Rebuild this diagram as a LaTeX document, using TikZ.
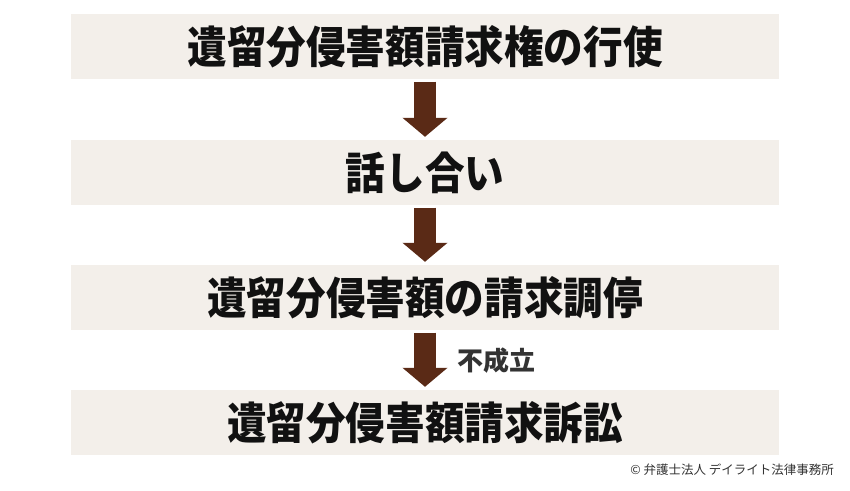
\documentclass[tikz,border=0pt]{standalone}
\usepackage{fontspec}
\setmainfont{Noto Sans CJK JP}
\newfontfamily\jptitle{Noto Sans CJK JP}[FakeStretch=0.9]
\newfontfamily\jpsmall{Noto Sans CJK JP}
\usetikzlibrary{arrows.meta}
\definecolor{boxbg}{HTML}{F3EFEA}
\definecolor{arrowbrown}{HTML}{5A2A16}
\definecolor{labelgray}{HTML}{333333}
\definecolor{txtblack}{HTML}{111111}
\tikzset{
  stepbox/.style={fill=boxbg, draw=none, minimum width=708pt, minimum height=65pt,
    inner sep=0pt, text=txtblack, font=\jptitle\bfseries\fontsize{44}{44}\selectfont},
  flowarrow/.style={draw=arrowbrown, line width=22pt,
    -{Triangle[width=44pt,length=19pt]}, shorten <=2.5pt, shorten >=3pt},
  steplabel/.style={text=labelgray, inner sep=0pt, anchor=west,
    font=\jpsmall\bfseries\fontsize{26}{26}\selectfont},
  credit/.style={text=labelgray, inner sep=0pt, anchor=east,
    font=\jpsmall\fontsize{12.5}{12.5}\selectfont}
}
\begin{document}
\begin{tikzpicture}[x=1pt,y=-1pt]
\useasboundingbox (0,0) rectangle (850,490);
\node[stepbox] (b1) at (425,46.5) {遺留分侵害額請求権の行使};
\node[stepbox] (b2) at (425,172.5) {話し合い};
\node[stepbox] (b3) at (425,297.5) {遺留分侵害額の請求調停};
\node[stepbox] (b4) at (425,422.5) {遺留分侵害額請求訴訟};
\draw[flowarrow] (b1.south) -- (b2.north);
\draw[flowarrow] (b2.south) -- (b3.north);
\draw[flowarrow] (b3.south) -- (b4.north);
\node[steplabel] (lbl) at (457,361) {不成立};
\node[credit] (cr) at (834,470) {© 弁護士法人 デイライト法律事務所};
\end{tikzpicture}
\end{document}
